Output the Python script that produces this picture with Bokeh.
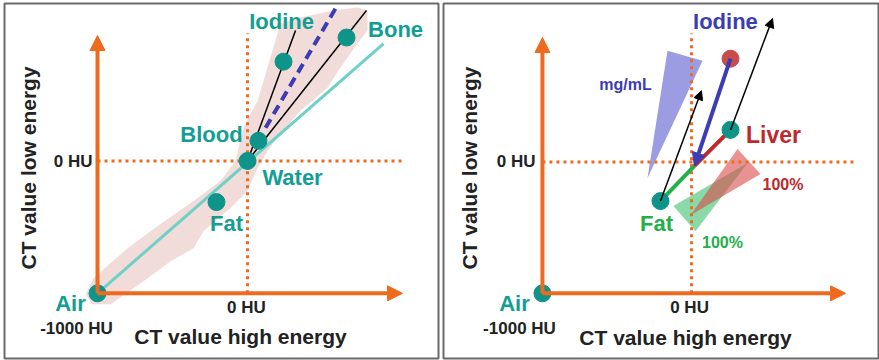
import numpy as np
from bokeh.plotting import figure
from bokeh.layouts import row
from bokeh.models import Arrow, NormalHead, ColumnDataSource, Range1d
from bokeh.core.properties import value
from bokeh.embed import file_html
from bokeh.resources import INLINE

# ------------------------------------------------------------------
# DATA (Hounsfield units: x = CT value high energy, y = CT value low energy)
# ------------------------------------------------------------------
tick_labels = ["-1000 HU", "0 HU"]
axis_titles = ["CT value high energy", "CT value low energy"]

# Left panel: materials
left_names = ["Air", "Water", "Fat", "Blood", "Iodine", "Bone"]
left_high = [-1000, 0, -207, 73, 240, 660]
left_low = [-1000, 0, -311, 152, 750, 932]

# Left panel lines
water_line_high = [-1000, 907]
water_line_low = [-1000, 886]
iodine_line_high = [0, 320]
iodine_line_low = [0, 985]
bone_line_high = [0, 793]
bone_line_low = [0, 1136]
dashed_high = [120, 587]
dashed_low = [250, 1152]

# Left panel: pink spread region
blob_high = [-1027, -800, -580, -360, -180, -80, -27, 67, 133, 200, 220, 353, 573, 733, 800,
             800, 733, 620, 533, 353, 220, 133, 67, 0, -113, -293, -360, -513, -693, -913,
             -1033, -1080]
blob_low = [-886, -659, -477, -303, -152, 0, 250, 455, 705, 962, 1038, 1083, 1136, 1159, 1136,
            985, 886, 705, 553, 379, 205, 76, -53, -227, -356, -530, -659, -758, -909, -1083,
            -1083, -1008]

# Right panel: materials
right_names = ["Air", "Fat", "Liver", "Liver + Iodine"]
right_high = [-1000, -208, 262, 262]
right_low = [-1000, -298, 244, 786]
junction_high = 20
junction_low = -30

# Right panel arrows (black): start -> end
black_start_high = [-208, 262]
black_start_low = [-298, 244]
black_end_high = [67, 544]
black_end_low = [542, 1092]

# Right panel wedges
iodine_wedge_high = [-161, 74, -295]
iodine_wedge_low = [847, 771, -122]
liver_wedge_high = [309, 463, -7]
liver_wedge_low = [99, -92, -405]
fat_wedge_high = [-121, 27, 376]
fat_wedge_low = [-336, -527, -8]

# ------------------------------------------------------------------
# STYLE
# ------------------------------------------------------------------
FONT = value("Liberation Sans")
ORANGE = "#ee6a1e"
TEAL_TXT = "#139e94"
TEAL_DOT = "#0e9488"
TEAL_LINE = "#6fd0c8"
BLUE = "#3c3cb4"
RED = "#c0282c"
GREEN = "#22b04a"
DARK = "#222222"


def make_fig(w, borders, xr, yr):
    left, right, top, bottom = borders
    p = figure(width=w, height=360, x_range=Range1d(*xr), y_range=Range1d(*yr),
               output_backend="svg", toolbar_location=None,
               min_border_left=left, min_border_right=right,
               min_border_top=top, min_border_bottom=bottom,
               x_axis_location=None, y_axis_location=None)
    p.grid.visible = False
    p.outline_line_color = "#6a6a6a"
    p.outline_line_width = 2
    p.background_fill_color = "white"
    p.border_fill_color = "white"
    return p


def axes(p, xmax, ymax, dot_xmax, dot_ymax):
    p.line([0, 0], [-1000, dot_ymax], line_color=ORANGE, line_width=3, line_dash="3 4")
    p.line([-1000, dot_xmax], [0, 0], line_color=ORANGE, line_width=3, line_dash="3 4")
    head = dict(size=15, fill_color=ORANGE, line_color=ORANGE)
    p.add_layout(Arrow(end=NormalHead(**head), x_start=-1000, y_start=-1000,
                       x_end=xmax, y_end=-1000, line_color=ORANGE, line_width=4))
    p.add_layout(Arrow(end=NormalHead(**head), x_start=-1000, y_start=-1000,
                       x_end=-1000, y_end=ymax, line_color=ORANGE, line_width=4))


def label(p, x, y, t, color, size, align="center", angle=0.0):
    shift = -round(0.35 * size)
    p.text(x=[x], y=[y], text=[t], text_font=FONT, text_font_style="bold",
           text_font_size=f"{size}px", text_color=color, text_align=align,
           text_baseline="alphabetic", angle=angle,
           x_offset=shift if angle else 0, y_offset=0 if angle else shift)


# ------------------------------------------------------------------
# LEFT PANEL
# ------------------------------------------------------------------
p1 = make_fig(440, (4, 2, 3, 2), (-1620, 1273), (-1492, 1189))
p1.patch(blob_high, blob_low, fill_color="#efd8d5", fill_alpha=0.9, line_color=None)
axes(p1, 1033, 947, 1053, 962)
p1.line(water_line_high, water_line_low, line_color=TEAL_LINE, line_width=3)
p1.line(iodine_line_high, iodine_line_low, line_color="black", line_width=1.5)
p1.line(bone_line_high, bone_line_low, line_color="black", line_width=1.5)
p1.line(dashed_high, dashed_low, line_color=BLUE, line_width=4, line_dash="10 6")
p1.scatter(left_high, left_low, size=17, fill_color=TEAL_DOT, line_color=TEAL_DOT)

label(p1, 227, 990, "Iodine", TEAL_TXT, 22)
label(p1, 987, 932, "Bone", TEAL_TXT, 22)
label(p1, -240, 139, "Blood", TEAL_TXT, 22)
label(p1, 300, -189, "Water", TEAL_TXT, 22)
label(p1, -140, -536, "Fat", TEAL_TXT, 22)
label(p1, -1180, -1136, "Air", TEAL_TXT, 22)
label(p1, -1140, -1311, tick_labels[0], DARK, 17)
label(p1, -7, -1149, tick_labels[1], DARK, 17)
label(p1, -1033, -51, tick_labels[1], DARK, 17, align="right")
label(p1, -47, -1379, axis_titles[0], DARK, 21)
label(p1, -1413, -53, axis_titles[1], DARK, 21, angle=np.pi / 2)

# ------------------------------------------------------------------
# RIGHT PANEL
# ------------------------------------------------------------------
p2 = make_fig(439, (3, 1, 3, 2), (-1664, 1255), (-1496, 1206))
p2.patch(iodine_wedge_high, iodine_wedge_low, fill_color="#5a5ad0", fill_alpha=0.6, line_color=None)
p2.patch(fat_wedge_high, fat_wedge_low, fill_color="#3cc070", fill_alpha=0.6, line_color=None)
p2.patch(liver_wedge_high, liver_wedge_low, fill_color="#d84a4a", fill_alpha=0.6, line_color=None)
axes(p2, 1034, 947, 1087, 977)

p2.line([right_high[1], junction_high], [right_low[1], junction_low], line_color=GREEN, line_width=4)
p2.line([right_high[2], junction_high], [right_low[2], junction_low], line_color=RED, line_width=4)
p2.add_layout(Arrow(end=NormalHead(size=13, fill_color=BLUE, line_color=BLUE),
                    x_start=right_high[3], y_start=right_low[3],
                    x_end=junction_high, y_end=junction_low, line_color=BLUE, line_width=4))
bsrc = ColumnDataSource(dict(x0=black_start_high, y0=black_start_low,
                             x1=black_end_high, y1=black_end_low))
p2.add_layout(Arrow(end=NormalHead(size=9, fill_color="black", line_color="black"),
                    x_start="x0", y_start="y0", x_end="x1", y_end="y1",
                    source=bsrc, line_color="black", line_width=1.5))

p2.scatter(right_high[:3], right_low[:3], size=17, fill_color=TEAL_DOT, line_color=TEAL_DOT)
p2.scatter(right_high[3:], right_low[3:], size=17, fill_color="#c84c4c", line_color="#c84c4c")

label(p2, 228, 1005, "Iodine", BLUE, 22)
label(p2, -443, 547, "mg/mL", BLUE, 16)
label(p2, 550, 147, "Liver", RED, 23)
label(p2, 614, -221, "100%", RED, 16)
label(p2, -235, -532, "Fat", GREEN, 22)
label(p2, 208, -659, "100%", GREEN, 16)
label(p2, -1188, -1137, "Air", TEAL_TXT, 22)
label(p2, -1154, -1313, tick_labels[0], DARK, 17)
label(p2, -13, -1150, tick_labels[1], DARK, 17)
label(p2, -1047, -44, tick_labels[1], DARK, 17, align="right")
label(p2, -40, -1389, axis_titles[0], DARK, 21)
label(p2, -1443, -46, axis_titles[1], DARK, 21, angle=np.pi / 2)

layout = row(p1, p2, spacing=0)
open("out.html", "w").write(file_html(layout, INLINE))
